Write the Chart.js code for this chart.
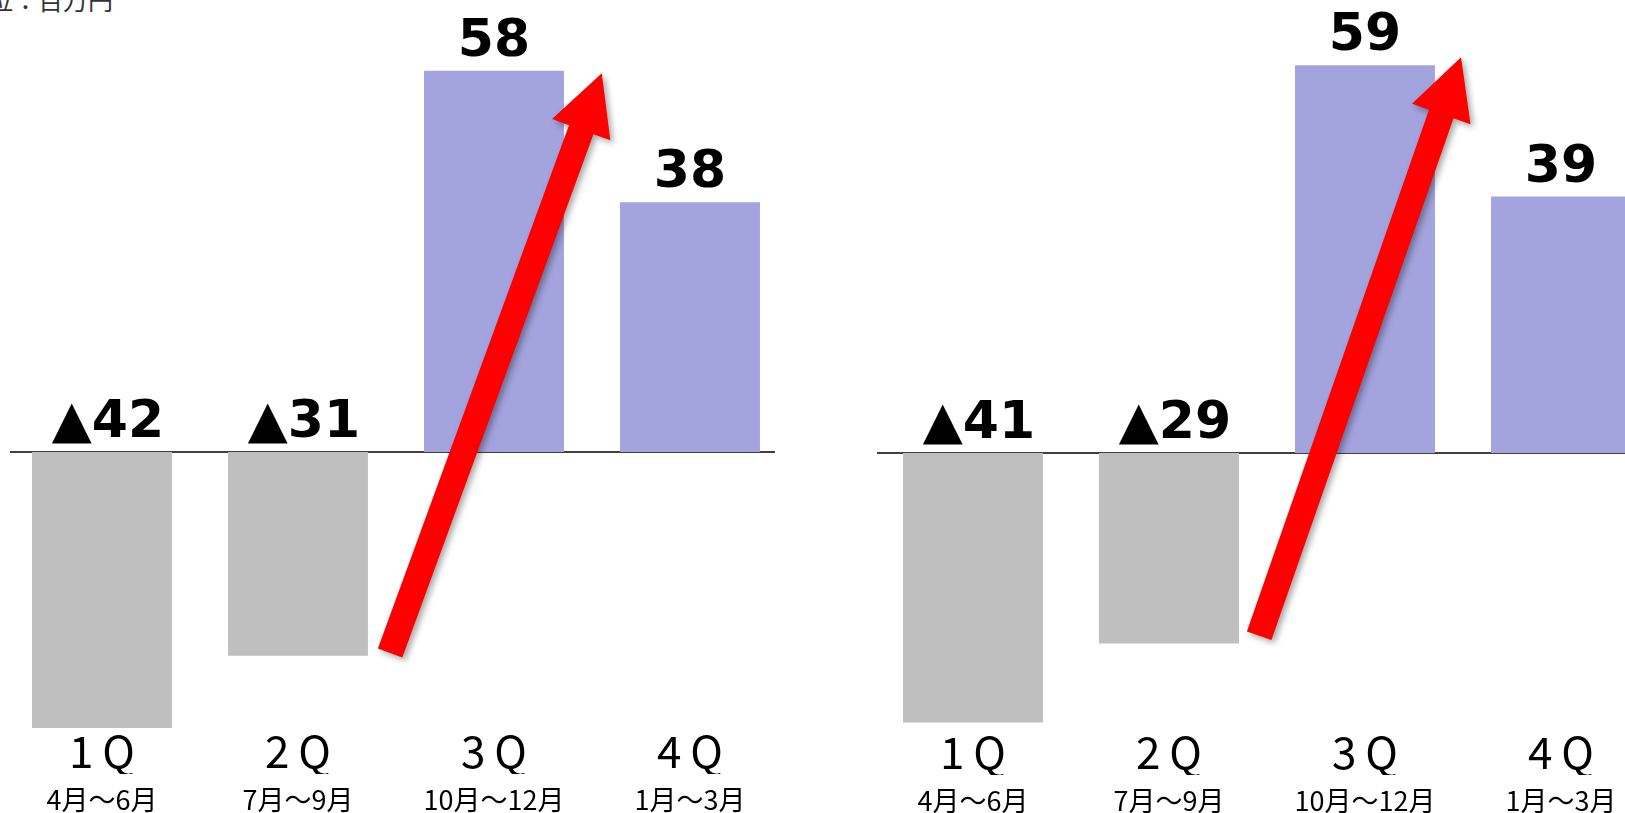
<!DOCTYPE html>
<html>
<head>
<meta charset="utf-8">
<script src="https://cdn.jsdelivr.net/npm/chart.js@4/dist/chart.umd.min.js"></script>
<style>
    html, body { margin: 0; padding: 0; background: #fff; width: 1625px; height: 813px; overflow: hidden; position: relative; }
    canvas { position: absolute; }
    #unit { position: absolute; left: -37px; top: -13px; font: 25px/25px "Noto Sans CJK JP"; color: #333; white-space: nowrap; }
</style>
</head>
<body>
<div id="unit">単位：百万円</div>
<canvas id="leftChart" width="784" height="820" style="left:4px; top:5px"></canvas>
<canvas id="rightChart" width="784" height="820" style="left:875px; top:6px"></canvas>
<script>
// Quarter labels and months
const quarters = ["1\u2009Q", "2\u2009Q", "3\u2009Q", "4\u2009Q"];
const months = ["4月～6月", "7月～9月", "10月～12月", "1月～3月"];

// Values (百万円), negative = loss
const leftValues = [-42, -31, 58, 38];
const rightValues = [-41, -29, 59, 39];

const yMin = -42;
const yMax = 68;

const GRAY = "#bfbfbf";
const BLUE = "#a3a3de";

// Value labels above each bar (▲ for negatives)
const valueLabels = {
    id: "valueLabels",
    afterDatasetsDraw(chart) {
        const ctx = chart.ctx;
        const meta = chart.getDatasetMeta(0);
        const values = chart.data.datasets[0].data;
        const zeroY = chart.scales.y.getPixelForValue(0);
        ctx.save();
        ctx.font = "bold 52px 'DejaVu Sans'";
        ctx.fillStyle = "#000";
        ctx.textAlign = "center";
        ctx.textBaseline = "alphabetic";
        meta.data.forEach((bar, i) => {
            const v = values[i];
            const text = v < 0 ? "▲" + Math.abs(v) : String(v);
            const y = v < 0 ? zeroY - 15 : bar.y - 15;
            ctx.fillText(text, bar.x + (v < 0 ? 6 : 0), y);
        });
        ctx.restore();
    },
};

// Zero line
const zeroLine = {
    id: "zeroLine",
    beforeDatasetsDraw(chart, args, opts) {
        const ctx = chart.ctx;
        const area = chart.chartArea;
        const y = chart.scales.y.getPixelForValue(0);
        ctx.save();
        ctx.strokeStyle = "#000";
        ctx.lineWidth = 1.5;
        ctx.beginPath();
        ctx.moveTo(area.left + opts.inset[0], y);
        ctx.lineTo(area.right - opts.inset[1], y);
        ctx.stroke();
        ctx.restore();
    },
};

// Red trend arrow, given in (category index, value) coordinates
const trendArrow = {
    id: "trendArrow",
    afterDatasetsDraw(chart, args, opts) {
        const ctx = chart.ctx;
        const xs = chart.scales.x, ys = chart.scales.y;
        const x0 = xs.getPixelForValue(opts.from[0]), y0 = ys.getPixelForValue(opts.from[1]);
        const x1 = xs.getPixelForValue(opts.to[0]), y1 = ys.getPixelForValue(opts.to[1]);
        const ang = Math.atan2(y1 - y0, x1 - x0);
        const len = Math.hypot(x1 - x0, y1 - y0);
        const shaft = 26, headW = 62, headL = 60;
        ctx.save();
        ctx.translate(x0, y0);
        ctx.rotate(ang);
        ctx.shadowColor = "rgba(0,0,0,0.35)";
        ctx.shadowBlur = 6;
        ctx.shadowOffsetX = 3;
        ctx.shadowOffsetY = 3;
        ctx.fillStyle = "#ff0000";
        ctx.beginPath();
        ctx.moveTo(0, -shaft / 2);
        ctx.lineTo(len - headL, -shaft / 2);
        ctx.lineTo(len - headL, -headW / 2);
        ctx.lineTo(len, 0);
        ctx.lineTo(len - headL, headW / 2);
        ctx.lineTo(len - headL, shaft / 2);
        ctx.lineTo(0, shaft / 2);
        ctx.closePath();
        ctx.fill();
        ctx.restore();
    },
};

function makeChart(id, values, inset, arrow) {
    new Chart(document.getElementById(id), {
        type: "bar",
        data: {
            labels: quarters,
            datasets: [{
                data: values,
                backgroundColor: values.map(v => (v < 0 ? GRAY : BLUE)),
                categoryPercentage: 1,
                barPercentage: 0.714,
            }],
        },
        options: {
            responsive: false,
            animation: false,
            layout: { padding: 0 },
            scales: {
                y: { display: false, min: yMin, max: yMax },
                x: {
                    grid: { display: false, drawTicks: false },
                    border: { display: false },
                    ticks: { color: "#000", padding: 1, font: { family: "Noto Sans CJK JP", size: 44, lineHeight: 1 } },
                },
                x2: {
                    type: "category",
                    labels: months,
                    position: "bottom",
                    grid: { display: false, drawTicks: false },
                    border: { display: false },
                    ticks: { color: "#000", padding: 12, font: { family: "Noto Sans CJK JP", size: 27, lineHeight: 1 } },
                },
            },
            plugins: {
                legend: { display: false },
                tooltip: { enabled: false },
                zeroLine: { inset: inset },
                trendArrow: arrow,
            },
        },
        plugins: [zeroLine, trendArrow, valueLabels],
    });
}

makeChart("leftChart", leftValues, [6, 13], { from: [1.47, -30.6], to: [2.55, 57.6] });
makeChart("rightChart", rightValues, [2, 0], { from: [1.46, -27.8], to: [2.49, 60.2] });
</script>
</body>
</html>
